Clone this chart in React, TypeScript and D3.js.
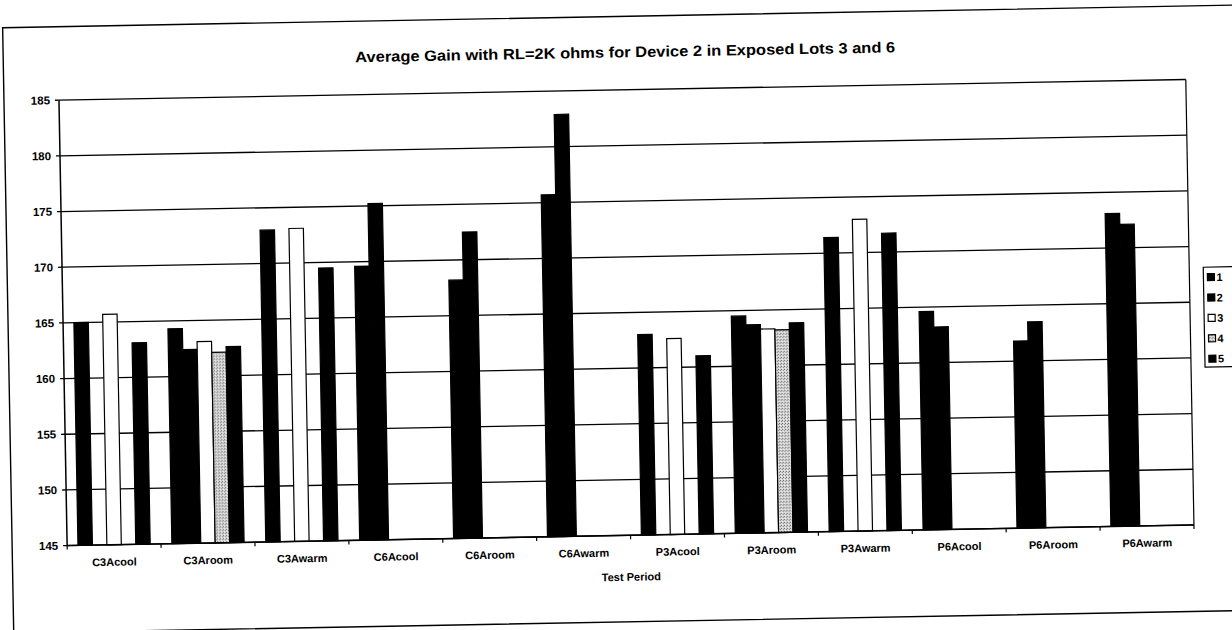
import React from "react";
import * as d3 from "d3";

const categories = [
  "C3Acool", "C3Aroom", "C3Awarm", "C6Acool", "C6Aroom", "C6Awarm",
  "P3Acool", "P3Aroom", "P3Awarm", "P6Acool", "P6Aroom", "P6Awarm",
];
const seriesNames = ["1", "2", "3", "4", "5"];
const s1 = [165.0, 164.3, 173.0, 169.6, 168.2, 175.7, 163.0, 164.5, 171.4, 164.6, 161.8, 173.1];
const s2 = [null, 162.4, null, 175.2, 172.5, 182.9, null, 163.7, null, 163.2, 163.5, 172.1];
const s3 = [165.7, 163.1, 173.1, null, null, null, 162.6, 163.3, 173.0, null, null, null];
const s4 = [null, 162.1, null, null, null, null, null, 163.2, null, null, null, null];
const s5 = [163.1, 162.6, 169.5, null, null, null, 161.0, 163.8, 171.7, null, null, null];
const seriesValues = [s1, s2, s3, s4, s5];
const yTicks = [145, 150, 155, 160, 165, 170, 175, 180, 185];
const yDomain = [145, 185];

const title = "Average Gain with RL=2K ohms for Device 2 in Exposed Lots 3 and 6";
const xTitle = "Test Period";

const fills = ["#000", "#000", "#fff", "url(#stipple)", "#000"];
const FONT = "'Liberation Sans', Arial, sans-serif";

export default function App() {
  const W = 1232, H = 630;
  const plot = { left: 63, right: 1190, top: 90, bottom: 535.5 };
  const y = d3.scaleLinear().domain(yDomain).range([plot.bottom, plot.top]);
  const x0 = d3.scaleBand<string>().domain(categories).range([plot.left, plot.right]);
  const x1 = d3
    .scaleBand<string>()
    .domain(seriesNames)
    .range([0, x0.bandwidth()])
    .paddingInner(0)
    .paddingOuter(0.75);

  const legendTop = 288;
  const legendStep = 20.4;

  return (
    <svg
      width={W}
      height={H}
      style={{ position: "absolute", left: 0, top: 0, background: "#fff" }}
    >
      <defs>
        <pattern id="stipple" width={3} height={3} patternUnits="userSpaceOnUse">
          <rect width={3} height={3} fill="#d4d4d4" />
          <rect x={0} y={0} width={1} height={1} fill="#6a6a6a" />
          <rect x={2} y={1} width={1} height={1} fill="#8a8a8a" />
          <rect x={1} y={2} width={1} height={1} fill="#f4f4f4" />
        </pattern>
      </defs>
      <rect width={W} height={H} fill="#fff" />
      <g transform="rotate(-1.05, 616, 315)">
        {/* outer frame */}
        <rect x={8} y={16.5} width={1245} height={605.5} fill="none" stroke="#000" strokeWidth={1.4} />
        {/* title */}
        <text
          x={360}
          y={52}
          dominantBaseline="central"
          fontFamily={FONT}
          fontWeight="bold"
          fontSize={15}
          textLength={540}
          lengthAdjust="spacingAndGlyphs"
        >
          {title}
        </text>
        {/* gridlines */}
        {yTicks.map((t) => (
          <line
            key={"g" + t}
            x1={plot.left}
            x2={plot.right}
            y1={y(t)}
            y2={y(t)}
            stroke="#000"
            strokeWidth={1.3}
          />
        ))}
        {/* right plot border */}
        <line x1={plot.right} x2={plot.right} y1={plot.top} y2={plot.bottom} stroke="#000" strokeWidth={1.2} />
        {/* bars */}
        {seriesValues.map((vals, si) =>
          vals.map((v, ci) =>
            v == null ? null : (
              <rect
                key={si + "-" + ci}
                x={(x0(categories[ci]) as number) + (x1(seriesNames[si]) as number)}
                y={y(v)}
                width={x1.bandwidth()}
                height={y(yDomain[0]) - y(v)}
                fill={fills[si]}
                stroke="#000"
                strokeWidth={1.2}
              />
            )
          )
        )}
        {/* y axis */}
        <line x1={plot.left} x2={plot.left} y1={plot.top} y2={plot.bottom} stroke="#000" strokeWidth={1.5} />
        {yTicks.map((t) => (
          <g key={"yt" + t}>
            <line x1={plot.left - 4} x2={plot.left} y1={y(t)} y2={y(t)} stroke="#000" strokeWidth={1.3} />
            <text
              x={plot.left - 9}
              y={y(t)}
              textAnchor="end"
              dominantBaseline="central"
              fontFamily={FONT}
              fontWeight="bold"
              fontSize={11.5}
            >
              {t}
            </text>
          </g>
        ))}
        {/* x axis */}
        <line x1={plot.left} x2={plot.right} y1={plot.bottom} y2={plot.bottom} stroke="#000" strokeWidth={1.5} />
        {categories.map((c) => (
          <g key={"xt" + c}>
            <line
              x1={x0(c) as number}
              x2={x0(c) as number}
              y1={plot.bottom}
              y2={plot.bottom + 4}
              stroke="#000"
              strokeWidth={1.2}
            />
            <text
              x={(x0(c) as number) + x0.bandwidth() / 2}
              y={plot.bottom + 17}
              textAnchor="middle"
              dominantBaseline="central"
              fontFamily={FONT}
              fontWeight="bold"
              fontSize={11}
            >
              {c}
            </text>
          </g>
        ))}
        <line x1={plot.right} x2={plot.right} y1={plot.bottom} y2={plot.bottom + 4} stroke="#000" strokeWidth={1.2} />
        <text
          x={(plot.left + plot.right) / 2}
          y={577}
          textAnchor="middle"
          dominantBaseline="central"
          fontFamily={FONT}
          fontWeight="bold"
          fontSize={11}
        >
          {xTitle}
        </text>
        {/* legend */}
        <rect x={1204} y={278} width={50} height={100} fill="#fff" stroke="#000" strokeWidth={1.2} />
        {seriesNames.map((s, i) => {
          const cy = legendTop + i * legendStep;
          return (
            <g key={"lg" + s}>
              <rect x={1208} y={cy - 3.5} width={7} height={7} fill={fills[i]} stroke="#000" strokeWidth={1.2} />
              <text
                x={1217}
                y={cy}
                dominantBaseline="central"
                fontFamily={FONT}
                fontWeight="bold"
                fontSize={11}
              >
                {s}
              </text>
            </g>
          );
        })}
      </g>
    </svg>
  );
}
